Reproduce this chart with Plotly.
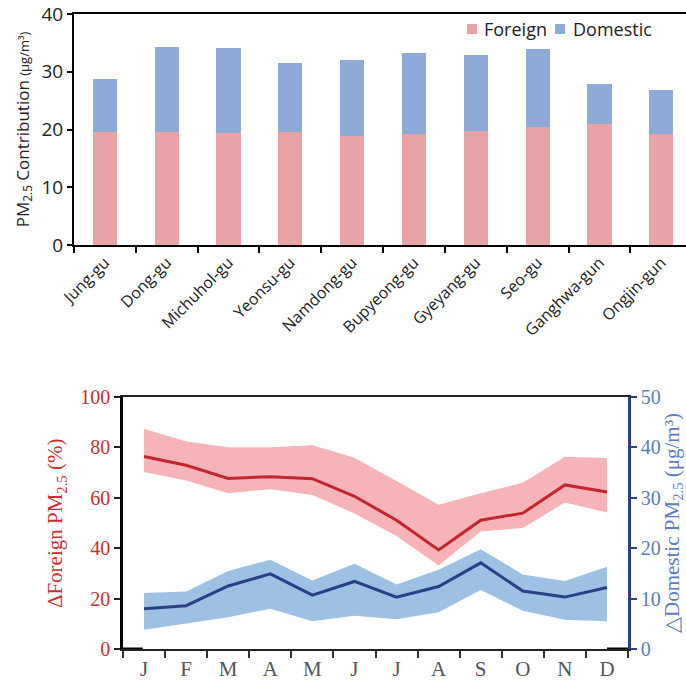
import plotly.graph_objects as go

# --- district contributions (µg/m³) ---
districts = ["Jung-gu", "Dong-gu", "Michuhol-gu", "Yeonsu-gu", "Namdong-gu",
             "Bupyeong-gu", "Gyeyang-gu", "Seo-gu", "Ganghwa-gun", "Ongjin-gun"]
foreign = [19.6, 19.6, 19.4, 19.6, 18.9, 19.3, 19.7, 20.4, 21.0, 19.3]
domestic = [9.2, 14.7, 14.7, 12.0, 13.1, 13.9, 13.2, 13.5, 6.8, 7.6]

# --- monthly changes ---
months = ["J", "F", "M", "A", "M", "J", "J", "A", "S", "O", "N", "D"]
foreign_pct = [76.4, 72.9, 67.7, 68.4, 67.6, 60.6, 51.1, 39.3, 51.1, 53.9, 65.1, 62.3]
foreign_pct_hi = [87.4, 82.3, 80.1, 80.1, 80.9, 75.9, 66.7, 57.2, 61.8, 66.0, 76.3, 75.8]
foreign_pct_lo = [70.2, 66.9, 61.8, 63.4, 61.1, 53.8, 44.8, 33.1, 46.6, 48.0, 58.1, 54.2]
domestic_conc = [8.0, 8.6, 12.5, 14.9, 10.7, 13.4, 10.3, 12.4, 17.1, 11.5, 10.3, 12.2]
domestic_conc_hi = [11.1, 11.4, 15.5, 17.7, 13.6, 16.9, 12.8, 15.7, 19.8, 14.8, 13.5, 16.3]
domestic_conc_lo = [3.8, 5.1, 6.3, 8.0, 5.5, 6.6, 5.9, 7.3, 11.7, 7.6, 5.8, 5.5]

W, H = 686, 683
def px_x(v): return v / W
def px_y(v): return 1 - v / H

C_FOR = "#e8a3a6"
C_DOM = "#8eaad8"
RED = "#c4262d"
RED_BAND = "#f7b4b8"
NAVY = "#2a3f86"
BLUE_BAND = "#9cc1e3"
RED_TXT = "#c8302f"
BLUE_TXT = "#5b7cc0"

sans = "Open Sans"
serif = "Liberation Serif"

fig = go.Figure()

# stacked bars
fig.add_trace(go.Bar(x=districts, y=foreign, name="Foreign", marker=dict(color=C_FOR, line_width=0),
                     width=0.39, xaxis="x", yaxis="y"))
fig.add_trace(go.Bar(x=districts, y=domestic, name="Domestic", marker=dict(color=C_DOM, line_width=0),
                     width=0.39, xaxis="x", yaxis="y"))

xm = list(range(len(months)))

# uncertainty bands
fig.add_trace(go.Scatter(x=xm, y=foreign_pct_lo, mode="lines", line=dict(width=0, color=RED_BAND),
                         xaxis="x2", yaxis="y2", showlegend=False, hoverinfo="skip"))
fig.add_trace(go.Scatter(x=xm, y=foreign_pct_hi, mode="lines", line=dict(width=0, color=RED_BAND),
                         fill="tonexty", fillcolor=RED_BAND, xaxis="x2", yaxis="y2", showlegend=False))
fig.add_trace(go.Scatter(x=xm, y=domestic_conc_lo, mode="lines", line=dict(width=0, color=BLUE_BAND),
                         xaxis="x2", yaxis="y3", showlegend=False, hoverinfo="skip"))
fig.add_trace(go.Scatter(x=xm, y=domestic_conc_hi, mode="lines", line=dict(width=0, color=BLUE_BAND),
                         fill="tonexty", fillcolor=BLUE_BAND, xaxis="x2", yaxis="y3", showlegend=False))

# mean lines
fig.add_trace(go.Scatter(x=xm, y=foreign_pct, mode="lines", line=dict(width=3, color=RED),
                         xaxis="x2", yaxis="y2", showlegend=False))
fig.add_trace(go.Scatter(x=xm, y=domestic_conc, mode="lines", line=dict(width=3, color=NAVY),
                         xaxis="x2", yaxis="y3", showlegend=False))

top_dom = [px_y(245), px_y(14)]
bot_dom = [px_y(649), px_y(397)]

fig.update_layout(
    width=W, height=H,
    margin=dict(l=0, r=0, t=0, b=0),
    paper_bgcolor="white", plot_bgcolor="white",
    barmode="stack",
    showlegend=False,
    xaxis=dict(
        domain=[px_x(74), 1], range=[-0.5, 9.4], type="category",
        tickson="boundaries", ticks="outside", ticklen=6, tickwidth=1.5, tickcolor="black",
        showline=True, linecolor="black", linewidth=2, mirror=True,
        tickangle=-45, tickfont=dict(family=sans, size=16, color="#222"),
        showgrid=False, zeroline=False, automargin=False, anchor="y",
    ),
    yaxis=dict(
        domain=top_dom, range=[0, 40], tickvals=[0, 10, 20, 30, 40],
        ticks="outside", ticklen=5, tickwidth=1.5, tickcolor="black",
        showline=True, linecolor="black", linewidth=2,
        tickfont=dict(family=sans, size=19, color="#222"),
        showgrid=False, zeroline=False, automargin=False, anchor="x",
        title=dict(text="PM<sub>2.5</sub> Contribution <span style='font-size:13px'>(μg/m³)</span>",
                   font=dict(family=sans, size=17, color="#222"), standoff=8),
    ),
    xaxis2=dict(
        domain=[px_x(123), px_x(628)], range=[-0.5, 11.5],
        tickvals=xm, ticktext=months, ticks="",
        minor=dict(tick0=-0.5, dtick=1, ticks="outside", ticklen=7, tickwidth=1.5, tickcolor="#333"),
        showline=True, linecolor="#222", linewidth=1.5, mirror=True,
        tickfont=dict(family=serif, size=21, color="#555"),
        showgrid=False, zeroline=False, automargin=False, anchor="y2",
    ),
    yaxis2=dict(
        domain=bot_dom, range=[0, 100], tickvals=[0, 20, 40, 60, 80, 100],
        ticks="outside", ticklen=6, tickwidth=1.5, tickcolor="#222",
        showline=True, linecolor="black", linewidth=2.5,
        tickfont=dict(family=serif, size=20, color=RED_TXT),
        showgrid=False, zeroline=False, automargin=False, anchor="x2",
        title=dict(text="∆Foreign PM<sub>2.5</sub> (%)", font=dict(family=serif, size=21, color=RED_TXT),
                   standoff=12),
    ),
    yaxis3=dict(
        overlaying="y2", side="right", range=[0, 50], tickvals=[0, 10, 20, 30, 40, 50],
        ticks="outside", ticklen=6, tickwidth=1.5, tickcolor=NAVY,
        showline=True, linecolor=NAVY, linewidth=2.5,
        tickfont=dict(family=serif, size=20, color=BLUE_TXT),
        showgrid=False, zeroline=False, automargin=False, anchor="x2",
        title=dict(text="△Domestic PM<sub>2.5</sub> (μg/m³)", font=dict(family=serif, size=21, color=BLUE_TXT),
                   standoff=20),
    ),
)

# legend for the bar chart: swatches and labels
legend_items = [("Foreign", C_FOR, 467, 482), ("Domestic", C_DOM, 555, 571)]
for label, colour, sx, tx in legend_items:
    fig.add_shape(type="rect", xref="paper", yref="paper",
                  x0=px_x(sx), x1=px_x(sx + 10), y0=px_y(34), y1=px_y(24),
                  fillcolor=colour, line_width=0)
    fig.add_annotation(xref="paper", yref="paper", x=px_x(tx), y=px_y(29),
                       xanchor="left", yanchor="middle", showarrow=False,
                       font=dict(family=sans, size=18, color="#222"), text=label)

# heavy end marks on the month axis baseline
fig.add_shape(type="line", xref="x2", yref="y2", x0=-0.5, x1=-0.03, y0=0, y1=0,
              line=dict(color="black", width=3))
fig.add_shape(type="line", xref="x2", yref="y2", x0=11.0, x1=11.5, y0=0, y1=0,
              line=dict(color="black", width=3))

fig.write_html("out.html")
